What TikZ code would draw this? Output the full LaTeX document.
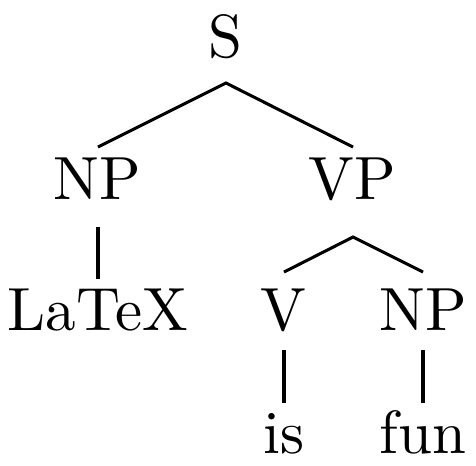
\documentclass[tikz,border=0pt]{standalone}
\usetikzlibrary{calc}
\begin{document}
\begin{tikzpicture}[x=0.164pt,y=-0.164pt,
  lbl/.style={anchor=base,inner sep=0pt,font=\fontsize{10}{12}\selectfont},
  edge/.style={line width=0.5pt}]
\useasboundingbox (0,0) rectangle (476,465);
\node[lbl] (S) at (225.5,57) {S};
\node[lbl] (NP1) at (97,199) {NP};
\node[lbl] (VP) at (352.5,199) {VP};
\node[lbl] (LT) at (98,330) {LaTeX};
\node[lbl] (V) at (283.5,330) {V};
\node[lbl] (NP2) at (423,330) {NP};
\node[lbl] (is) at (284,453) {is};
\node[lbl] (fun) at (423,453) {fun};
\draw[edge] ($(NP1.base)+(1,-52)$) -- ($(S.base)+(0.5,26)$) -- ($(VP.base)+(0.5,-52)$);
\draw[edge] ($(NP1.base)+(1,28)$) -- ($(LT.base)+(0,-51)$);
\draw[edge] ($(V.base)+(0.5,-58)$) -- ($(VP.base)+(0.5,38)$) -- ($(NP2.base)+(0,-58)$);
\draw[edge] ($(V.base)+(0.5,20)$) -- ($(is.base)+(0,-50)$);
\draw[edge] ($(NP2.base)+(0,20)$) -- ($(fun.base)+(0,-50)$);
\end{tikzpicture}
\end{document}
